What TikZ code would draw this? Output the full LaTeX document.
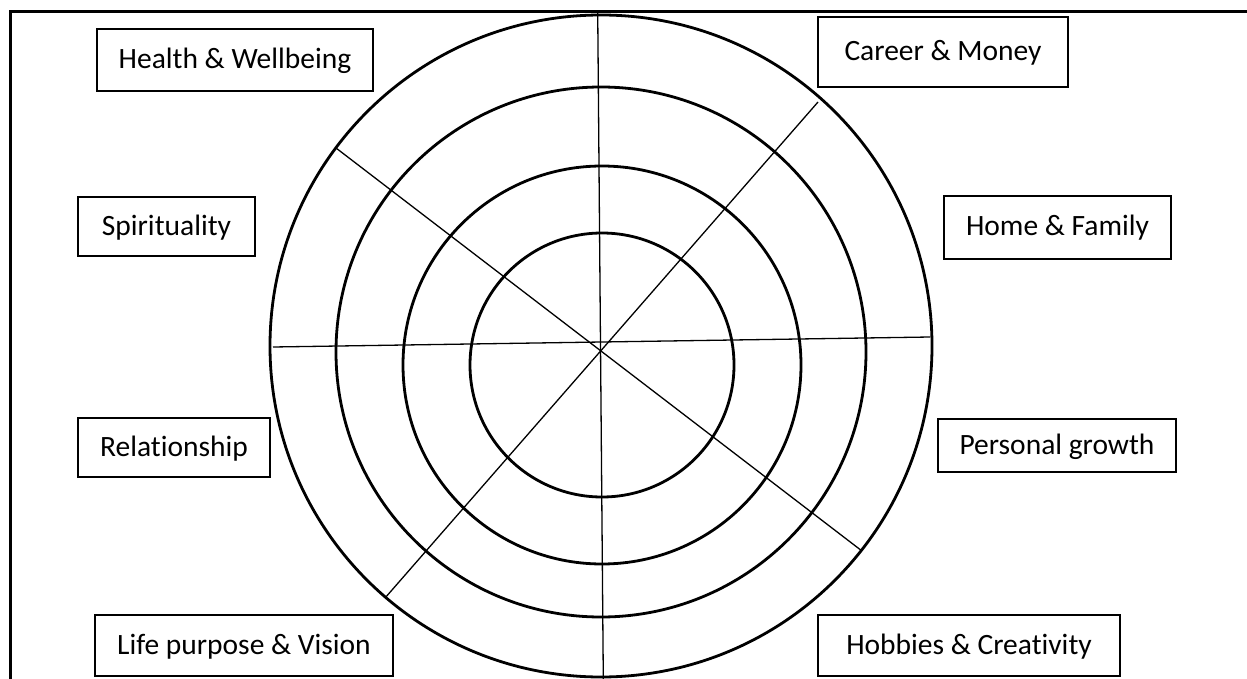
\documentclass[tikz,border=0pt]{standalone}
\usepackage{fontspec}
\setmainfont{Carlito}[Ligatures=NoCommon]
\begin{document}
\begin{tikzpicture}[x=1pt,y=-1pt,
  lbl/.style={draw, line width=1.3pt, inner sep=0pt, text height=21pt, text depth=4pt, font=\fontsize{29.5}{35}\selectfont},
  ring/.style={line width=2.8pt},
  spoke/.style={line width=1.3pt},
  frame/.style={line width=3pt}]
\useasboundingbox (0,0) rectangle (1247,679);
% frame (top and left only)
\coordinate (fr) at (1247,12);
\coordinate (fc) at (10,12);
\coordinate (fb) at (10,679);
\draw[frame] (fr) -- (fc) -- (fb);
% rings
\coordinate (c1) at (601,346);
\coordinate (c2) at (601,352);
\coordinate (c3) at (602,365);
\coordinate (c4) at (602,365);
\draw[ring] (c1) circle[radius=331pt];
\draw[ring] (c2) circle[radius=265pt];
\draw[ring] (c3) circle[radius=199pt];
\draw[ring] (c4) circle[radius=132pt];
% spokes
\coordinate (vt) at (597.7,11);
\coordinate (vb) at (603.3,679);
\coordinate (hl) at (273,347);
\coordinate (hr) at (930,337);
\coordinate (ne) at (818,102);
\coordinate (sw) at (385,598);
\coordinate (nw) at (336,148);
\coordinate (se) at (862,551);
\draw[spoke] (vt) -- (vb);
\draw[spoke] (hl) -- (hr);
\draw[spoke] (ne) -- (sw);
\draw[spoke] (nw) -- (se);
% labels
\node[lbl, minimum width=276pt, minimum height=62pt] (hw) at (235,60) {Health \& Wellbeing};
\node[lbl, minimum width=250pt, minimum height=70pt] (cm) at (943,52) {Career \& Money};
\node[lbl, minimum width=177pt, minimum height=59pt] (sp) at (166.5,226.5) {Spirituality};
\node[lbl, minimum width=227pt, minimum height=63pt] (hf) at (1057.5,227.5) {Home \& Family};
\node[lbl, minimum width=192pt, minimum height=59pt] (rel) at (174,447.5) {Relationship};
\node[lbl, minimum width=238pt, minimum height=53pt] (pg) at (1057,445.5) {Personal growth};
\node[lbl, minimum width=298pt, minimum height=61pt] (lp) at (244,645.5) {Life purpose \& Vision};
\node[lbl, minimum width=302pt, minimum height=61pt] (hc) at (969,645.5) {Hobbies \& Creativity};
\end{tikzpicture}
\end{document}
